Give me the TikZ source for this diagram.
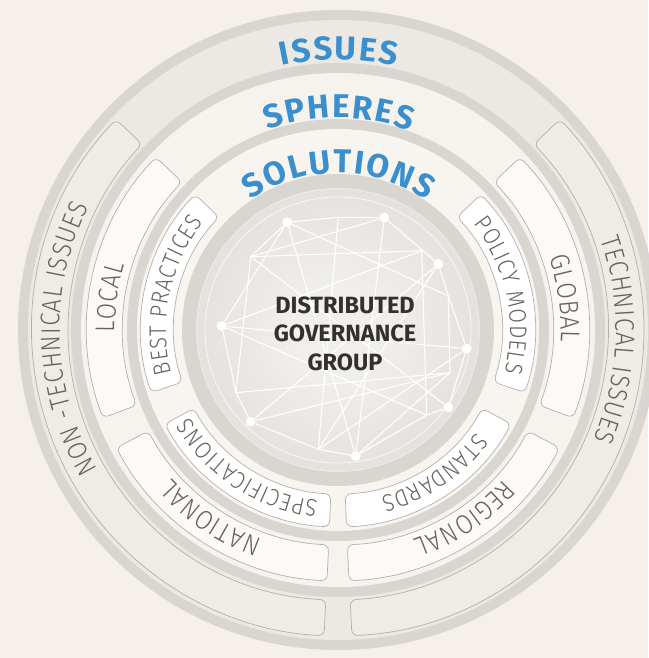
\documentclass[tikz,border=0pt]{standalone}
\usepackage{fontspec}
\usetikzlibrary{decorations.text}
\newfontfamily\firasans{Fira Sans}
\newfontfamily\firalight{Fira Sans Light}[FakeStretch=0.88]
\definecolor{bgc}{HTML}{F5F0EB}
\definecolor{ringdark}{HTML}{D9D5D0}
\definecolor{issuesband}{HTML}{ECE8E4}
\definecolor{spheresband}{HTML}{F6F3EF}
\definecolor{solband}{HTML}{F8F5F1}
\definecolor{boxline}{HTML}{B5AFA9}
\definecolor{issuebox}{HTML}{EFEBE7}
\definecolor{spherebox}{HTML}{FCFAF7}
\definecolor{solbox}{HTML}{FFFFFF}
\definecolor{titleblue}{HTML}{3A8FCC}
\definecolor{labelgray}{HTML}{67625D}
\definecolor{centertext}{HTML}{333130}
\definecolor{corein}{HTML}{F1EFEC}
\definecolor{coremid}{HTML}{E2DFDB}
\definecolor{coreout}{HTML}{CBC6C1}
\definecolor{corerim}{HTML}{EAE7E3}
\pgfdeclareradialshading{coreshade}{\pgfpointorigin}{color(0bp)=(corein); color(8bp)=(corein); color(28bp)=(coremid); color(44bp)=(coreout); color(50bp)=(coreout)}
\newcommand{\segbox}[5]{%
  \draw[#1, rounded corners=6pt] (#2:#5pt) arc[start angle=#2, end angle=#3, radius=#5pt] -- (#3:#4pt) arc[start angle=#3, end angle=#2, radius=#4pt] -- cycle;}
\newcommand{\arctext}[5]{%
  \path[decorate, decoration={text along path, text align=center, text={|#1|#5}}] ({#2+#3}:#4pt) arc[start angle={#2+#3}, end angle={#2-#3}, radius=#4pt];}
\newcommand{\titlefmt}{\firasans\bfseries\fontsize{33}{33}\selectfont\color{titleblue}\kern2pt}
\newcommand{\labelfmt}{\firalight\fontsize{27}{27}\selectfont\color{labelgray}\kern0.8pt}
\newcommand{\solfmt}{\firalight\fontsize{24}{24}\selectfont\color{labelgray}\kern0.8pt}
\begin{document}
\begin{tikzpicture}[x=1pt,y=1pt,
  issueseg/.style={fill=issuebox, draw=boxline, line width=0.7pt},
  sphereseg/.style={fill=spherebox, draw=boxline, line width=0.7pt},
  solseg/.style={fill=solbox, draw=boxline, line width=0.7pt},
  dot/.style={circle, fill=white, minimum size=10pt, inner sep=0pt},
  netline/.style={white, line width=1.1pt}]
\fill[bgc] (-338,-328) rectangle (310,330);
\useasboundingbox (-338,-328) rectangle (310,330);
% rings
\fill[ringdark] (0,0) circle[radius=320pt];
\fill[issuesband] (0,0) circle[radius=310pt];
\fill[ringdark] (0,0) circle[radius=267pt];
\fill[spheresband] (0,0) circle[radius=257pt];
\fill[ringdark] (0,0) circle[radius=211pt];
\fill[solband] (0,0) circle[radius=201pt];
\fill[ringdark] (0,0) circle[radius=156pt];
\draw[corerim, line width=2pt] (0,0) circle[radius=141pt];
\shade[shading=coreshade] (0,0) circle[radius=140pt];
\draw[white, line width=0.7pt, opacity=0.8] (0,0) circle[radius=133pt];
% segments
\segbox{issueseg}{136.5}{267.4}{270}{306}
\segbox{issueseg}{-87.4}{43.5}{270}{306}
\segbox{sphereseg}{136.5}{200.5}{215}{251}
\segbox{sphereseg}{208}{267.5}{215}{251}
\segbox{sphereseg}{272.5}{332}{215}{251}
\segbox{sphereseg}{-20.5}{43.5}{215}{251}
\segbox{solseg}{136.5}{198.5}{164}{197}
\segbox{solseg}{208.5}{267.5}{164}{197}
\segbox{solseg}{272.5}{331.5}{164}{197}
\segbox{solseg}{-18.5}{43.5}{164}{197}
% titles
\arctext{\titlefmt}{90}{40}{270}{ISSUES}
\arctext{\titlefmt}{90}{45}{212}{SPHERES}
\arctext{\titlefmt}{90}{55}{157}{SOLUTIONS}
% labels
\arctext{\labelfmt}{182}{45}{278}{NON -TECHNICAL ISSUES}
\arctext{\labelfmt}{-2}{45}{278}{TECHNICAL ISSUES}
\arctext{\labelfmt}{172}{40}{223}{LOCAL}
\arctext{\labelfmt}{8}{40}{223}{GLOBAL}
\arctext{\labelfmt}{236}{40}{223}{NATIONAL}
\arctext{\labelfmt}{304}{40}{223}{REGIONAL}
\arctext{\solfmt}{168}{50}{172}{BEST PRACTICES}
\arctext{\solfmt}{12}{50}{172}{POLICY MODELS}
\arctext{\solfmt}{237}{50}{172}{SPECIFICATIONS}
\arctext{\solfmt}{304}{50}{172}{STANDARDS}
% network
\coordinate (p1) at (0.3,112.7);
\coordinate (p2) at (-87.3,73.3);
\coordinate (p3) at (83.7,79.3);
\coordinate (p4) at (110.3,34);
\coordinate (p5) at (112,-42.7);
\coordinate (p6) at (-102,-62.7);
\coordinate (p7) at (-19.7,-119.3);
\coordinate (p8) at (88.7,-85);
\node[dot] (A) at (-50.7,107.7) {};
\node[dot] (B) at (46.3,112.3) {};
\node[dot] (C) at (100.3,66) {};
\node[dot] (D) at (-116.3,4) {};
\node[dot] (E) at (128.7,-18.7) {};
\node[dot] (F) at (110.3,-77.3) {};
\node[dot] (G) at (-87.3,-91.7) {};
\node[dot] (H) at (17.7,-126) {};
\draw[netline] (A) -- (p1) -- (B);
\draw[netline] (B) -- (C);
\draw[netline] (C) -- (p4) -- (E);
\draw[netline] (E) -- (F);
\draw[netline] (F) -- (p8) -- (H);
\draw[netline] (H) -- (p7) -- (G);
\draw[netline] (G) -- (p6) -- (D);
\draw[netline] (D) -- (A);
\draw[netline] (A) -- (p2) -- (p6);
\draw[netline] (p2) -- (p3) -- (p8);
\draw[netline] (p1) -- (p7);
\draw[netline] (A) -- (H);
\draw[netline] (B) -- (H);
\draw[netline] (B) -- (p2);
\draw[netline] (C) -- (G);
\draw[netline] (C) -- (p7);
\draw[netline] (D) -- (E);
\draw[netline] (D) -- (p3);
\draw[netline] (p6) -- (p5);
\draw[netline] (p5) -- (G);
\draw[netline] (p2) -- (F);
\draw[netline] (p4) -- (p5);
\draw[netline] (p5) -- (H);
\draw[netline] (A) -- (p4);
\draw[netline] (E) -- (p7);
\draw[netline] (D) -- (p8);
% centre text
\node[font=\firasans\bfseries\fontsize{23.5}{28.5}\selectfont, text=centertext, align=center] (title) at (7,-3.5) {DISTRIBUTED\\GOVERNANCE\\GROUP};
\end{tikzpicture}
\end{document}
